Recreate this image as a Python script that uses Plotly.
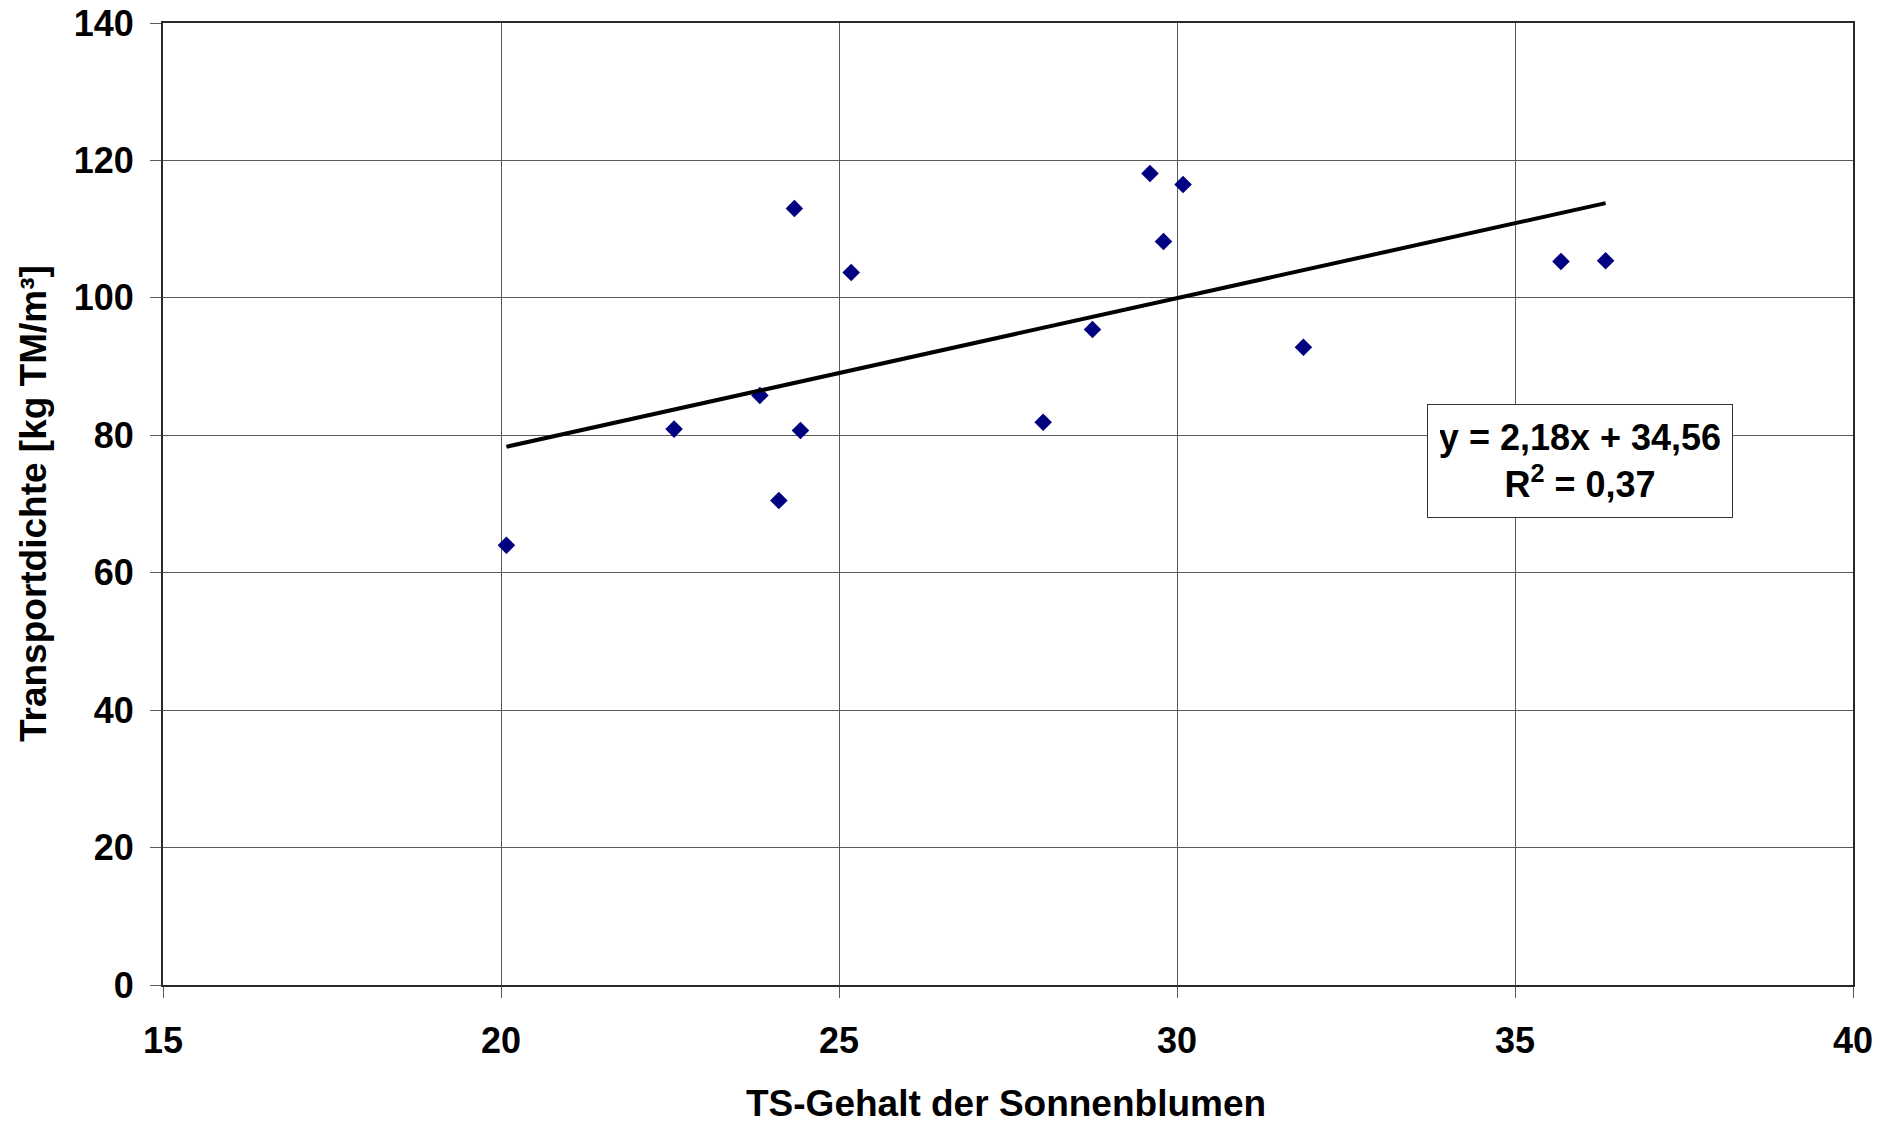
import plotly.graph_objects as go

ts_gehalt = [20.08, 22.56, 23.83, 24.11, 24.34, 24.43, 25.18, 28.02, 28.75, 29.60, 29.80, 30.09, 31.87, 35.68, 36.34]
transportdichte = [64.0, 80.9, 85.8, 70.5, 113.0, 80.7, 103.7, 81.9, 95.4, 118.1, 108.2, 116.5, 92.8, 105.3, 105.4]
slope = 2.18
intercept = 34.56
r2 = 0.37
x_ticks = [15, 20, 25, 30, 35, 40]
y_ticks = [0, 20, 40, 60, 80, 100, 120, 140]
x_title = "TS-Gehalt der Sonnenblumen"
y_title = "Transportdichte [kg TM/m³]"

font_family = "Liberation Sans, Arial, sans-serif"

x0, x1 = min(ts_gehalt), max(ts_gehalt)

fig = go.Figure()
fig.add_trace(go.Scatter(
    x=ts_gehalt, y=transportdichte, mode="markers",
    marker=dict(symbol="diamond", size=13.5, color="#000080"),
    showlegend=False,
))
fig.add_trace(go.Scatter(
    x=[x0, x1], y=[slope * x0 + intercept, slope * x1 + intercept], mode="lines",
    line=dict(color="black", width=4),
    showlegend=False,
))

fmt = lambda v: f"{v:.2f}".replace(".", ",")
fig.add_annotation(
    x=35.96, y=76.2, xref="x", yref="y",
    text=f"y = {fmt(slope)}x + {fmt(intercept)}<br>R<sup>2</sup> = {fmt(r2)}",
    showarrow=False, align="center",
    font=dict(family=font_family, size=36, color="black", weight="bold"),
    bordercolor="#333333", borderwidth=1, bgcolor="white",
    borderpad=12, width=280,
)

# axis titles
fig.add_annotation(
    x=0.4991, y=-0.1227, xref="paper", yref="paper",
    text=x_title, showarrow=False, xanchor="center", yanchor="middle",
    font=dict(family=font_family, size=37, color="black", weight="bold"),
)
fig.add_annotation(
    x=-0.0769, y=0.5, xref="paper", yref="paper",
    text=y_title, showarrow=False, xanchor="center", yanchor="middle",
    textangle=-90,
    font=dict(family=font_family, size=37, color="black", weight="bold"),
)

axis_common = dict(
    showgrid=True, gridcolor="#5a5a5a", gridwidth=1,
    showline=True, linecolor="#2a2a2a", linewidth=2, mirror=True,
    ticks="outside", ticklen=11, tickcolor="#5a5a5a", tickwidth=1,
    zeroline=False, automargin=False, ticklabeloverflow="allow",
    tickfont=dict(family=font_family, size=36, color="black", weight="bold"),
)

fig.update_xaxes(range=[15, 40], tickvals=x_ticks, ticklabelstandoff=12, **axis_common)
fig.update_yaxes(range=[0, 140], tickvals=y_ticks, ticklabelstandoff=9, **axis_common)

fig.update_layout(
    width=1890, height=1123,
    margin=dict(l=163, r=37, t=23, b=138, autoexpand=False),
    plot_bgcolor="white", paper_bgcolor="white",
)

# remove the default page body margin so the figure fills the window exactly
fig.write_html(
    "out.html",
    config={"displayModeBar": False},
    post_script="document.body.style.margin='0px';document.body.style.overflow='hidden';",
)
